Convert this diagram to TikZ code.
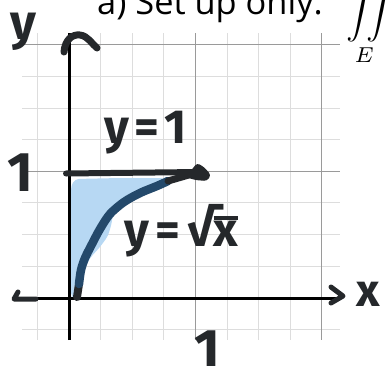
\documentclass[tikz,border=0pt]{standalone}
\usepackage{amsmath}
\usepackage[no-math]{fontspec}
\setmainfont{Open Sans}
\newfontfamily\hand{Fira Sans}
\definecolor{gridminor}{HTML}{DDDDDD}
\definecolor{gridmajor}{HTML}{9A9A9A}
\definecolor{ink}{HTML}{25282B}
\definecolor{darkblue}{HTML}{24496B}
\definecolor{lightblue}{HTML}{B7D8F3}
\newcommand{\handsize}[1]{\hand\bfseries\fontsize{#1}{#1}\selectfont}
\newcommand{\ovbar}[1]{\vbox{\hrule height 4pt \kern 1pt \hbox{#1}}}
\tikzset{
  minorline/.style={draw=gridminor, line width=1bp},
  majorline/.style={draw=gridmajor, line width=1bp},
  axisline/.style={draw=black, line width=3bp},
  inkstroke/.style={draw=ink, line width=6bp, line cap=round, line join=round},
  handlabel/.style={text=ink, inner sep=0pt},
}
\begin{document}
\begin{tikzpicture}[x=1bp,y=-1bp]
\useasboundingbox (0,0) rectangle (386,366);
\clip (0,0) rectangle (386,366);
\fill[white] (0,0) rectangle (386,366);
% grid
\foreach \i in {-1,...,8} {
  \draw[minorline] ({69+31.6*\i},33) -- ({69+31.6*\i},340);
  \draw[minorline] (22,{297.7-31.6*\i}) -- (340,{297.7-31.6*\i});
}
\foreach \i in {4,8} {
  \draw[majorline] ({69+31.6*\i},33) -- ({69+31.6*\i},340);
  \draw[majorline] (22,{297.7-31.6*\i}) -- (340,{297.7-31.6*\i});
}
% shaded region E
\fill[lightblue, rounded corners=4bp] (71,186) -- (75,179) -- (120,178) -- (165,178) -- (160,184)
  -- (140,192) -- (124,200) -- (113,210) -- (112,222) -- (108,236) -- (100,247) -- (90,258)
  -- (84,270) -- (80,290) -- (74,297) -- (71,297) -- cycle;
% axes
\coordinate (ytop) at (69,33);
\coordinate (ybot) at (69,340);
\coordinate (xleft) at (20,298);
\coordinate (xright) at (336,298);
\draw[axisline] (ybot) -- (ytop);
\draw[axisline] (xleft) -- (xright);
% axis arrowheads (hand drawn)
\draw[inkstroke, line width=7bp] (64,52) .. controls (65,40) and (72,34) .. (80,35) .. controls (88,36) and (92,44) .. (97,48);
\draw[inkstroke, line width=5bp] (18,292) -- (14,299) -- (36,299);
\draw[inkstroke, line width=5bp] (331,287) -- (343,296) -- (331,303);
% curve y = sqrt x
\coordinate (orig) at (77,297);
\coordinate (c1) at (79,284);
\coordinate (c2) at (168,181);
\coordinate (tip) at (199,172);
\draw[inkstroke, line width=8bp] (orig) -- (c1);
\draw[darkblue, line width=8.5bp, line cap=round, line join=round] plot[smooth] coordinates {
  (79,284) (81,270) (85,258) (92,244) (100,229) (110,214) (124,202) (140,193) (157,186) (168,181)};
\draw[inkstroke, line width=7bp] (c2) -- (tip);
% line y = 1
\coordinate (lineL) at (66,173.5);
\draw[inkstroke] (lineL) -- (tip);
\fill[ink, rounded corners=3bp] (186,177) -- (197,163) -- (204,167) -- (211,175) -- (207,181) -- (195,180) -- cycle;
% labels
\node[handlabel, font=\handsize{50}, anchor=base] (ylab) at (23,39) {y};
\node[handlabel, font={\handsize{48}\addfontfeature{LetterSpace=12}}, anchor=base west] (lab1) at (104,143) {y=1};
\node[handlabel, font={\handsize{48}\addfontfeature{LetterSpace=14}}, anchor=base west] (lab2) at (124,246) {y=√\ovbar{x}};
\node[handlabel, font=\handsize{56}] (one1) at (20,173) {1};
\node[handlabel, font=\handsize{56}] (one2) at (207,350) {1};
\node[handlabel, font=\handsize{46}] (xlab) at (368,294) {x};
% printed text
\node[anchor=base west, inner sep=0pt, font=\fontsize{34.5}{34.5}\selectfont] (title) at (97,14.5) {a) Set up only:};
\node[anchor=south west, inner sep=0pt, scale=3.1, line width=0.25pt] (intE) at (346,66)
  {$\displaystyle\iint\limits_E$};
\end{tikzpicture}
\end{document}
